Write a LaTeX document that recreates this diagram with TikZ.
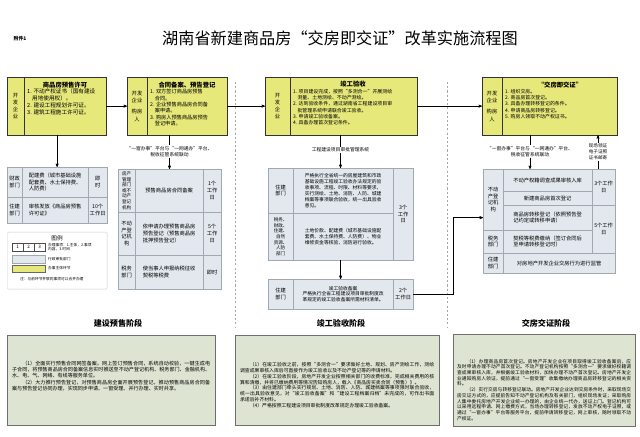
\documentclass[tikz,border=0pt]{standalone}
\usepackage{fontspec}
\setmainfont{Noto Sans CJK SC}
\usepackage{tikz}
\usetikzlibrary{arrows,positioning}
\XeTeXlinebreaklocale "zh"
\XeTeXlinebreakskip = 0pt plus 1pt

\definecolor{boxyellow}{RGB}{230,232,122}
\definecolor{cellblue}{RGB}{226,232,238}
\definecolor{cellline}{RGB}{160,168,178}
\definecolor{notegreen}{RGB}{222,228,210}
\definecolor{noteline}{RGB}{110,110,110}

\begin{document}
\begin{tikzpicture}[x=0.05cm, y=-0.05cm, >=stealth',
  stagebox/.style={anchor=north west, rectangle, draw=black!80, fill=boxyellow, inner sep=0pt},
  tablebox/.style={anchor=north west, rectangle, draw=cellline, fill=cellblue, inner sep=0pt},
  tcell/.style={anchor=north west, rectangle, draw=cellline, inner sep=1pt, align=center, font=\fontsize{7.5}{9.5}\selectfont},
  notebox/.style={anchor=north west, rectangle, draw=noteline, fill=notegreen, thick, inner sep=0pt},
  notetext/.style={anchor=north west, inner sep=0pt, align=justify, font=\fontsize{7.2}{8.8}\selectfont},
  whotext/.style={align=center, inner sep=0pt, font=\fontsize{7.5}{10}\selectfont},
  headtext/.style={inner sep=0pt, font=\fontsize{9}{11}\selectfont\bfseries},
  listtext/.style={anchor=north west, align=left, inner sep=0pt, font=\fontsize{7}{9}\selectfont},
  linktext/.style={align=center, inner sep=1pt, font=\fontsize{6.8}{8.5}\selectfont},
  keybox/.style={anchor=north west, rectangle, inner sep=0pt, minimum height=0.4cm},
  keytext/.style={anchor=west, align=left, inner sep=0pt, font=\fontsize{5.3}{6.5}\selectfont},
  stagetitle/.style={font=\fontsize{11.5}{13}\selectfont\bfseries},
  flowline/.style={thick, black},
  ]
  \useasboundingbox[fill=white] (0,0) rectangle (640,437);

  %title
  \node at (20,39) [font=\fontsize{7}{8}\selectfont\bfseries] (annex) {附件1};
  \node at (340,38) [font=\fontsize{23}{26}\selectfont] (title) {湖南省新建商品房“交房即交证”改革实施流程图};

  %stage separators
  \draw[dashed, gray!70] (235,82) -- (235,328);
  \draw[dashed, gray!70] (447,82) -- (447,328);

  %stage boxes
  \node at (7,77) [stagebox, minimum width=4.95cm, minimum height=2.9cm] (box1) {};
  \draw[black!80] (24,77) -- (24,135);
  \node at (15.5,106) [whotext] (box1who) {开\\发\\企\\业};
  \node at (65,85) [headtext] (box1head) {商品房预售许可};
  \node at (27,89) [listtext, font=\fontsize{8}{9.8}\selectfont] (box1list) {1. 不动产权证书（国有建设\\\hspace*{0.9em}用地使用权）。\\2. 建设工程规划许可证。\\3. 建筑工程施工许可证。};

  \node at (127,77) [stagebox, minimum width=5cm, minimum height=2.9cm] (box2) {};
  \draw[black!80] (147,77) -- (147,135);
  \node at (137,106) [whotext] (box2who) {开发\\企业\\[7pt]购房\\人};
  \node at (187,85) [headtext] (box2head) {合同备案、预告登记};
  \node at (150,89) [listtext, font=\fontsize{7.4}{9.2}\selectfont] (box2list) {1. 双方签订商品房预售\\\hspace*{0.9em}合同。\\2. 企业预售商品房合同备\\\hspace*{0.9em}案申请。\\3. 购房人预售商品房预告\\\hspace*{0.9em}登记申请。};

  \node at (265,77) [stagebox, minimum width=7.6cm, minimum height=2.9cm] (box3) {};
  \draw[black!80] (290,77) -- (290,135);
  \node at (277.5,106) [whotext] (box3who) {开\\发\\企\\业};
  \node at (353,84) [headtext] (box3head) {竣工验收};
  \node at (293,89) [listtext] (box3list) {1. 项目建设完成，按照“多测合一”开展测绘\\\hspace*{0.9em}测量、土地测绘、不动产测绘。\\2. 达到验收条件，通过湖南省工程建设项目审\\\hspace*{0.9em}批管理系统申请联合竣工验收。\\3. 申请竣工验收备案。\\4. 具备办理首次登记条件。};

  \node at (482,77) [stagebox, minimum width=6.75cm, minimum height=2.9cm] (box4) {};
  \draw[black!80] (502,77) -- (502,135);
  \node at (492,106) [whotext] (box4who) {开发\\企业\\[7pt]购房\\人};
  \node at (560,85) [headtext] (box4head) {“交房即交证”};
  \node at (505,89) [listtext] (box4list) {1. 组织交房。\\2. 商品房首次登记。\\3. 具备办理转移登记的条件。\\4. 申请商品房转移登记。\\5. 购房人领取不动产权证书。};

  \draw[flowline, ->] (box1.east) -- (box1.east -| box2.west);
  \draw[flowline, ->] (box2.east) -- (box2.east -| box3.west);
  \draw[flowline, ->] (box3.east) -- (box3.east -| box4.west);

  %table 1
  \node at (7,167) [tablebox, minimum width=5cm, minimum height=2.8cm] (t1) {};
  \node at (7,167) [tcell, minimum width=0.75cm, minimum height=1.5cm] (t1d1) {财政\\部门};
  \node at (22,167) [tcell, minimum width=3.3cm, minimum height=1.5cm, align=left] (t1c1) {配建费（城市基础设施\\配套费、水土保持费、\\人防费）};
  \node at (88,167) [tcell, minimum width=0.95cm, minimum height=1.5cm] (t1s1) {即\\时};
  \node at (7,197) [tcell, minimum width=0.75cm, minimum height=1.3cm] (t1d2) {住建\\部门};
  \node at (22,197) [tcell, minimum width=3.3cm, minimum height=1.3cm, align=left] (t1c2) {审核发放《商品房预售\\许可证》};
  \node at (88,197) [tcell, minimum width=0.95cm, minimum height=1.3cm] (t1s2) {10个\\工作日};

  %table 2
  \node at (118,169) [tablebox, minimum width=5.15cm, minimum height=6cm] (t2) {};
  \node at (118,169) [tcell, minimum width=0.85cm, minimum height=2.15cm, font=\fontsize{6.5}{8}\selectfont] (t2d1) {房产\\管理\\部门\\或不\\动产\\登记\\机构};
  \node at (135,169) [tcell, minimum width=3.4cm, minimum height=2.15cm] (t2c1) {预售商品房合同备案};
  \node at (203,169) [tcell, minimum width=0.9cm, minimum height=2.15cm] (t2s1) {1个\\工作\\日};
  \node at (118,212) [tcell, minimum width=0.85cm, minimum height=2.15cm] (t2d2) {不动\\产登\\记机\\构};
  \node at (135,212) [tcell, minimum width=3.4cm, minimum height=2.15cm, align=left] (t2c2) {依申请办理预售商品房\\预告登记（预售商品房\\抵押预告登记）};
  \node at (203,212) [tcell, minimum width=0.9cm, minimum height=2.15cm] (t2s2) {5个\\工作\\日};
  \node at (118,255) [tcell, minimum width=0.85cm, minimum height=1.7cm] (t2d3) {税务\\部门};
  \node at (135,255) [tcell, minimum width=3.4cm, minimum height=1.7cm, align=left] (t2c3) {使当事人申报纳税征收\\契税等税费};
  \node at (203,255) [tcell, minimum width=0.9cm, minimum height=1.7cm] (t2s3) {即时};

  %table 3
  \node at (268,168) [tablebox, minimum width=7.25cm, minimum height=4.6cm] (t3) {};
  \node at (268,168) [tcell, minimum width=1.25cm, minimum height=2.25cm] (t3d1) {住建\\部门};
  \node at (293,168) [tcell, minimum width=5cm, minimum height=2.25cm, align=left, font=\fontsize{6.8}{8.4}\selectfont] (t3c1) {严格执行全省统一的房屋建筑和市政\\基础设施工程竣工验收办法规定的验\\收事项、流程、时限、材料等要求，\\实行测绘、土地、消防、人防、城建\\档案等事项联合验收，统一出具验收\\意见。};
  \node at (393,168) [tcell, minimum width=1cm, minimum height=4.6cm] (t3s) {3个\\工作\\日};
  \node at (268,213) [tcell, minimum width=1.25cm, minimum height=2.35cm, font=\fontsize{6.5}{8}\selectfont] (t3d2) {税务、\\财政、\\住建、\\自然\\资源、\\人防\\部门};
  \node at (293,213) [tcell, minimum width=5cm, minimum height=2.35cm, align=left, font=\fontsize{6.8}{8.4}\selectfont] (t3c2) {土地价款、配建费（城市基础设施配\\套费、水土保持费、人防费）、物业\\维修资金等核验，消防进行验收。};

  %table 4
  \node at (268,279) [tablebox, minimum width=7.25cm, minimum height=1.5cm] (t4) {};
  \node at (268,279) [tcell, minimum width=1.25cm, minimum height=1.5cm] (t4d) {住建\\部门};
  \node at (293,279) [tcell, minimum width=5cm, minimum height=1.5cm, font=\fontsize{6.8}{8.4}\selectfont] (t4c) {竣工验收备案\\严格执行全省工程建设项目审批制度改\\革规定的竣工验收备案所需材料清单。};
  \node at (393,279) [tcell, minimum width=1cm, minimum height=1.5cm] (t4s) {2个\\工作日};

  %table 5
  \node at (483,169) [tablebox, minimum width=6.6cm, minimum height=5.2cm] (t5) {};
  \node at (483,169) [tcell, minimum width=1cm, minimum height=3.05cm] (t5d1) {不动\\产登\\记机\\构};
  \node at (503,169) [tcell, minimum width=4.45cm, minimum height=1.1cm] (t5r1) {不动产权籍调查成果审核入库};
  \node at (503,191) [tcell, minimum width=4.45cm, minimum height=0.7cm] (t5r2) {新建商品房首次登记};
  \node at (592,169) [tcell, minimum width=1.15cm, minimum height=1.8cm] (t5s1) {3个工作\\日};
  \node at (503,205) [tcell, minimum width=4.45cm, minimum height=1.25cm, align=left] (t5r3) {商品房转移登记（依照预告登\\记约定或转移申请）};
  \node at (592,205) [tcell, minimum width=1.15cm, minimum height=2.4cm] (t5s2) {5个工作\\日};
  \node at (483,230) [tcell, minimum width=1cm, minimum height=1.15cm] (t5d2) {税务\\部门};
  \node at (503,230) [tcell, minimum width=4.45cm, minimum height=1.15cm, align=left] (t5r4) {契税等税费缴纳（签订合同后\\至申请转移登记时）};
  \node at (483,253) [tcell, minimum width=1cm, minimum height=1cm] (t5d3) {住建\\部门};
  \node at (503,253) [tcell, minimum width=5.6cm, minimum height=1cm] (t5r5) {对房地产开发企业交房行为进行监管};

  %links
  \draw[flowline, ->] (t1.north |- box1.south) -- (t1.north);
  \node at (169.5,151.5) [linktext] (lab2) {“一窗办事”平台与“一网通办”平台、\\税收征管系统联动};
  \draw[flowline] (lab2.north |- box2.south) -- (lab2.north);
  \draw[flowline, ->] (lab2.south) -- (lab2.south |- t2.north);
  \node at (340.5,150) [linktext] (lab3) {工程建设项目审批管理系统};
  \draw[flowline] (lab3.north |- box3.south) -- (lab3.north);
  \draw[flowline, ->] (lab3.south) -- (lab3.south |- t3.north);
  \draw[flowline, ->] (t3.south) -- (t4.north);
  \node at (530,151.5) [linktext] (lab4) {“一窗办事”平台与“一网通办”平台、\\税收征管系统联动};
  \draw[flowline] (lab4.north |- box4.south) -- (lab4.north);
  \draw[flowline, ->] (lab4.south) -- (lab4.south |- t5.north);
  \node at (598,152) [linktext, font=\fontsize{6.5}{8.2}\selectfont] (lab5) {现场领证\\电子证照\\证书邮寄};
  \draw[flowline] (lab5.south |- t5.north) -- (lab5.south);
  \draw[flowline, ->] (lab5.north) -- (lab5.north |- box4.south);
  \draw[flowline, ->] (t4.east) -- ++(40,0) |- (t5r3.west -| t5.west);

  %legend
  \node at (7,232) [anchor=north west, rectangle, rounded corners=2pt, draw=gray!40, fill=white, minimum width=5cm, minimum height=2.85cm] (legend) {};
  \node at (57,238) [font=\fontsize{8}{9}\selectfont] (legendhead) {图例};
  \node at (12,243) [keybox, draw=black!70, fill=white, minimum width=0.55cm, font=\fontsize{6.5}{7}\selectfont] (key1) {1};
  \node at (23,243) [keybox, draw=black!70, fill=white, minimum width=0.55cm, font=\fontsize{6.5}{7}\selectfont] (key2) {2};
  \node at (34,243) [keybox, draw=black!70, fill=white, minimum width=0.55cm, font=\fontsize{6.5}{7}\selectfont] (key3) {3};
  \node at (48,247) [keytext] (keystep) {办理事项：1.主体，2.事项\\内容，3.时间};
  \node at (12,255) [keybox, draw=cellline, fill=cellblue, minimum width=1.65cm] (keyblue) {};
  \node at (48,259) [keytext] (keybluetext) {行政审批部门};
  \node at (12,265) [keybox, draw=black!60, fill=boxyellow, minimum width=1.65cm, minimum height=0.35cm] (keyyellow) {};
  \node at (48,268.5) [keytext] (keyyellowtext) {办事主体环节};
  \node at (20,279) [keytext] (keynote) {注：与前环节并联的事项可以合并办理};

  %stage titles
  \node at (118,323) [stagetitle] (stage1) {建设预售阶段};
  \node at (341,323) [stagetitle] (stage2) {竣工验收阶段};
  \node at (546,323) [stagetitle] (stage3) {交房交证阶段};

  %notes
  \node at (7,335) [notebox, minimum width=10.4cm, minimum height=4.5cm] (noteA) {};
  \node at (12,361) [notetext, text width=9.9cm] (noteAtext) {\hspace*{2em}（1）全面实行预售合同网签备案。网上签订预售合同，系统自动校验，一键生成电子合同，将预售商品房合同备案信息实时推送至不动产登记机构、税务部门、金融机构、水、电、气、网络、有线等服务单位。\par\hspace*{2em}（2）大力推行预告登记，对预售商品房全面开展预告登记，推动预售商品房合同备案与预告登记协同办理，实现同步申请、一窗受理、并行办理、实时共享。};

  \node at (235,335) [notebox, minimum width=10.2cm, minimum height=4.5cm] (noteB) {};
  \node at (240,362) [notetext, text width=9.7cm, font=\fontsize{6.9}{8.4}\selectfont] (noteBtext) {\hspace*{2em}（1）在竣工验收之前，按照“多测合一”要求做好土地、规划、房产测绘工作，测绘调查成果审核入库后可直接作为竣工验收以及不动产登记等的申请材料。\par\hspace*{2em}（2）在竣工验收阶段，房地产开发企业按照相关部门的收费标准，完成相关费用的核算和清缴，并将已缴纳费用等情况告知购房人，载入《商品房买卖合同（预售）》。\par\hspace*{2em}（3）由住建部门牵头实行规划、土地、消防、人防、城建档案等事项限时联合验收，统一出具验收意见，对“竣工验收备案”和“建设工程档案归档”未完成的，可作出书面承诺后补齐材料。\par\hspace*{2em}（4）严格按照工程建设项目审批制度改革规定办理竣工验收备案。};

  \node at (453,334) [notebox, minimum width=9.1cm, minimum height=4.6cm] (noteC) {};
  \node at (457,359) [notetext, text width=8.7cm, font=\fontsize{6.7}{8.1}\selectfont] (noteCtext) {\hspace*{2em}（1）办理商品房首次登记。房地产开发企业在项目取得竣工验收备案后，应及时申请办理不动产首次登记。不动产登记机构按照“多测合一”要求做好权籍调查成果审核入库，并根据竣工验收材料，加快办理不动产首次登记。房地产开发企业通知购房人领证，提前通过“一窗受理”收集缴纳办理商品房转移登记的相关资料。\par\hspace*{2em}（2）实行交房与转移登记联动。房地产开发企业达到交房条件时，采取现场交房交证方式的，应提前告知不动产登记机构及有关部门，组织现场发证；采取购房人集中委托房地产开发企业统一办理的，由企业统一代办，送证上门。登记机构可以采用远程申请、网上缴费方式，当场办理转移登记，发放不动产权电子证照，或通过“一窗办事”平台等服务平台，提前申请转移登记，网上审核，随时领取不动产权证。};
\end{tikzpicture}
\end{document}
